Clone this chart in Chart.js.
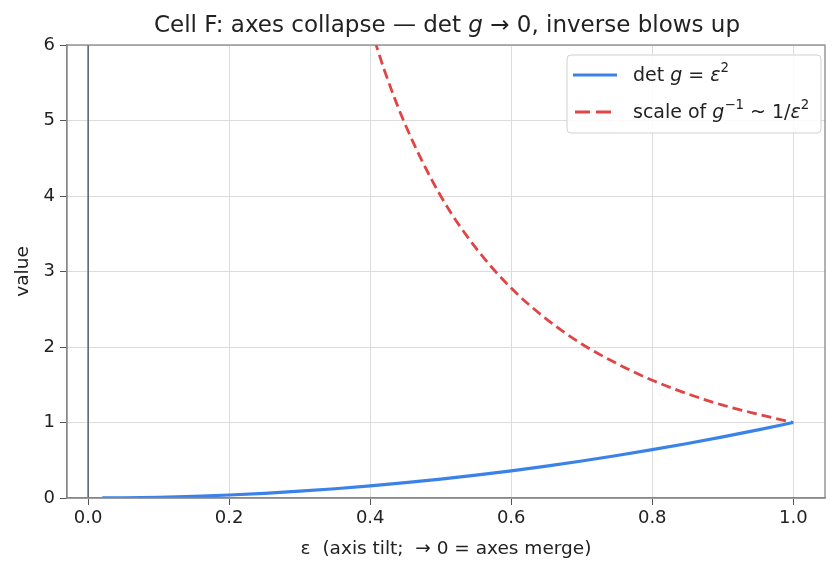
<!doctype html>
<html lang="en">
<head>
<meta charset="utf-8">
<title>Cell F</title>
<script src="https://cdn.jsdelivr.net/npm/chart.js@4.4.0/dist/chart.umd.min.js"></script>
<style>
  html, body { margin: 0; padding: 0; background: #fff; }
  #wrap { width: 840px; height: 575px; }
</style>
</head>
<body>
<div id="wrap"><canvas id="chart" width="840" height="575"></canvas></div>
<script>
// epsilon samples read along the x axis
const eps = [0.02, 0.05, 0.1, 0.15, 0.2, 0.25, 0.3, 0.35, 0.4, 0.45, 0.5, 0.55, 0.6, 0.65, 0.7, 0.75, 0.8, 0.85, 0.9, 0.95, 1.0];
// det g = eps^2 (blue)
const detVals = [0.0004, 0.0025, 0.01, 0.0225, 0.04, 0.0625, 0.09, 0.1225, 0.16, 0.2025, 0.25, 0.3025, 0.36, 0.4225, 0.49, 0.5625, 0.64, 0.7225, 0.81, 0.9025, 1.0];
// scale of g^-1 (red dashed), only visible part (clipped at 6)
const invEps = [0.4, 0.42, 0.45, 0.5, 0.55, 0.6, 0.65, 0.7, 0.75, 0.8, 0.85, 0.9, 0.95, 1.0];
const invVals = [6.25, 5.67, 4.94, 4.0, 3.31, 2.78, 2.37, 2.04, 1.78, 1.56, 1.38, 1.23, 1.11, 1.0];
const xTicks = [0, 0.2, 0.4, 0.6, 0.8, 1.0];
const refX = 0;

const BLUE = '#3b82e8';
const RED = '#e04444';
const FONT = '"DejaVu Sans", sans-serif';

function toPts(xs, ys) { return xs.map((x, i) => ({ x: x, y: ys[i] })); }

// draw a run of text pieces, some italic / superscript
function drawRuns(ctx, runs, x, y, size, align) {
  const measure = r => {
    ctx.font = (r.it ? 'italic ' : '') + (r.sup ? size * 0.7 : size) + 'px ' + FONT;
    return ctx.measureText(r.t).width;
  };
  let total = 0;
  runs.forEach(r => total += measure(r));
  let cx = align === 'center' ? x - total / 2 : x;
  ctx.textBaseline = 'middle';
  ctx.textAlign = 'left';
  runs.forEach(r => {
    const w = measure(r);
    ctx.fillText(r.t, cx, r.sup ? y - size * 0.38 : y);
    cx += w;
  });
}

const extras = {
  id: 'extras',
  afterDraw(chart) {
    const ctx = chart.ctx;
    const a = chart.chartArea;
    ctx.save();
    // full box around the plot
    ctx.strokeStyle = '#888';
    ctx.lineWidth = 1.3;
    ctx.strokeRect(a.left, a.top, a.right - a.left, a.bottom - a.top);

    // title
    ctx.fillStyle = '#222';
    drawRuns(ctx, [
      { t: 'Cell F: axes collapse \u2014 det ' }, { t: 'g', it: true }, { t: ' \u2192 0, inverse blows up' }
    ], 447, 26, 23, 'center');

    // legend
    const lx = 567, ly = 55, lw = 254, lh = 78;
    ctx.fillStyle = 'rgba(255,255,255,0.85)';
    ctx.strokeStyle = '#d0d0d0';
    ctx.lineWidth = 1;
    ctx.beginPath();
    ctx.roundRect(lx, ly, lw, lh, 4);
    ctx.fill();
    ctx.stroke();

    ctx.lineWidth = 3;
    ctx.strokeStyle = BLUE;
    ctx.beginPath(); ctx.moveTo(573, 75); ctx.lineTo(617, 75); ctx.stroke();
    ctx.lineWidth = 2.8;
    ctx.strokeStyle = RED;
    ctx.setLineDash([15, 6]);
    ctx.beginPath(); ctx.moveTo(575, 112); ctx.lineTo(612, 112); ctx.stroke();
    ctx.setLineDash([]);

    ctx.fillStyle = '#222';
    drawRuns(ctx, [{ t: 'det ' }, { t: 'g', it: true }, { t: ' = ' }, { t: '\u03b5', it: true }, { t: '2', sup: true }], 633, 76, 19);
    drawRuns(ctx, [{ t: 'scale of ' }, { t: 'g', it: true }, { t: '\u22121', sup: true }, { t: ' ~ 1/' }, { t: '\u03b5', it: true }, { t: '2', sup: true }], 633, 113, 19);
    ctx.restore();
  }
};

new Chart(document.getElementById('chart'), {
  type: 'line',
  data: {
    datasets: [
      {
        label: 'ref',
        data: [{ x: refX, y: 0 }, { x: refX, y: 6 }],
        borderColor: '#5f6672',
        borderWidth: 1.6,
        pointRadius: 0
      },
      {
        label: 'det g = eps^2',
        data: toPts(eps, detVals),
        borderColor: BLUE,
        borderWidth: 3.2,
        pointRadius: 0,
        cubicInterpolationMode: 'monotone'
      },
      {
        label: 'scale of g^-1',
        data: toPts(invEps, invVals),
        borderColor: RED,
        borderWidth: 2.8,
        borderDash: [10, 5],
        pointRadius: 0,
        cubicInterpolationMode: 'monotone'
      }
    ]
  },
  options: {
    responsive: false,
    animation: false,
    layout: { padding: { left: 0, right: 15, top: 45, bottom: 0 } },
    plugins: { legend: { display: false }, tooltip: { enabled: false } },
    scales: {
      x: {
        type: 'linear',
        min: -0.03,
        max: 1.045,
        afterBuildTicks: s => { s.ticks = xTicks.map(v => ({ value: v })); },
        afterFit: s => { s.height = 77; },
        grid: { color: '#dcdcdc', tickColor: '#555', tickLength: 7 },
        border: { color: '#888', width: 1.3 },
        ticks: { color: '#222', font: { family: FONT, size: 18 }, padding: 3, maxRotation: 0, callback: v => v.toFixed(1) },
        title: { display: true, text: '\u03b5  (axis tilt;  \u2192 0 = axes merge)', color: '#222', font: { family: FONT, size: 18.5 }, padding: { top: 0, bottom: 15 } }
      },
      y: {
        min: 0,
        max: 6,
        ticks: { stepSize: 1, color: '#222', font: { family: FONT, size: 18 }, padding: 5 },
        afterFit: s => { s.width = 67; },
        grid: { color: '#dcdcdc', tickColor: '#555', tickLength: 7 },
        border: { color: '#888', width: 1.3 },
        title: { display: true, text: 'value', color: '#222', font: { family: FONT, size: 18.5 }, padding: { top: 12, bottom: 0 } }
      }
    }
  },
  plugins: [extras]
});
</script>
</body>
</html>
